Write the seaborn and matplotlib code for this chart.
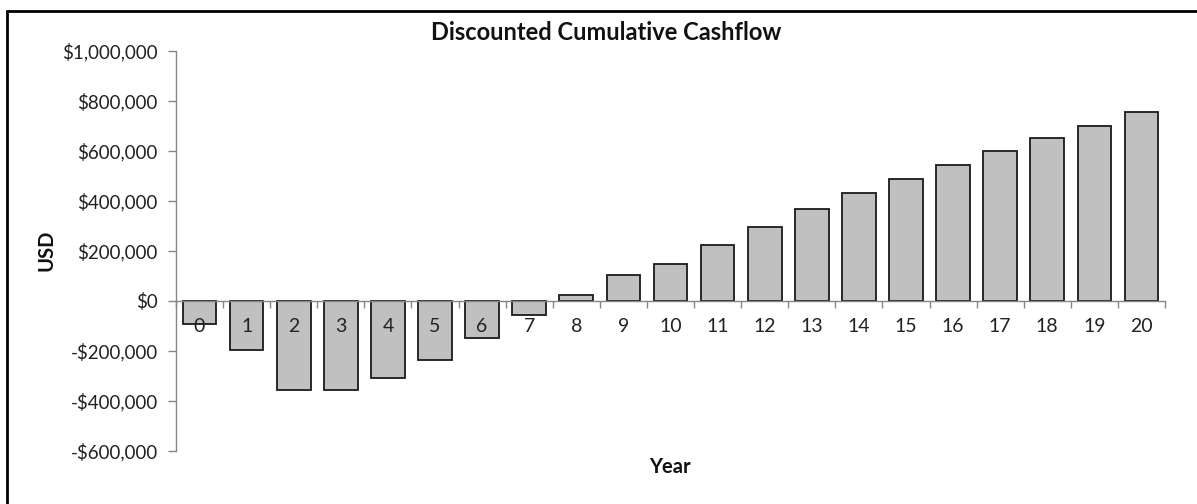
import matplotlib
matplotlib.use("Agg")
import matplotlib.pyplot as plt
from matplotlib.lines import Line2D
from matplotlib.ticker import FuncFormatter, FixedLocator
import numpy as np
import seaborn as sns

# ---------------------------------------------------------------------------
# Data
# ---------------------------------------------------------------------------
years = [str(y) for y in range(21)]
cum_cashflow = [
    -90000, -197000, -354000, -355000, -309000, -237000, -148000, -57000,
    25000, 103000, 147000, 223000, 295000, 367000, 432000, 487000,
    545000, 601000, 652000, 701000, 755000,
]
y_ticks = [-600000, -400000, -200000, 0, 200000, 400000, 600000, 800000, 1000000]

AXIS_GREY = "#868686"
TEXT = "#222222"

sns.set_theme(style="white")
plt.rcParams["font.family"] = ["Lato", "DejaVu Sans"]

fig = plt.figure(figsize=(11.97, 5.04), dpi=100)
ax = fig.add_axes([176 / 1197, 53 / 504, (1165 - 176) / 1197, 400 / 504])

sns.barplot(
    x=years,
    y=cum_cashflow,
    color="#c0c0c0",
    saturation=1,
    edgecolor="#1a1a1a",
    linewidth=1.3,
    width=0.714,
    ax=ax,
)
# bars below the axis so the year labels sit on top of them, as in Excel
for p in ax.patches:
    p.set_zorder(1)
ax.set_axisbelow(False)

ax.set_xlim(-0.5, len(years) - 0.5)
ax.set_ylim(-600000, 1000000)
ax.yaxis.set_major_locator(FixedLocator(y_ticks))


def usd(v, _):
    return f"-${abs(v):,.0f}" if v < 0 else f"${v:,.0f}"


ax.yaxis.set_major_formatter(FuncFormatter(usd))

# spines: left axis + zero line axis
for side in ["top", "right"]:
    ax.spines[side].set_visible(False)
ax.spines["bottom"].set_position(("data", 0))
for side in ["left", "bottom"]:
    ax.spines[side].set_color(AXIS_GREY)
    ax.spines[side].set_linewidth(1.0)

# tick marks at category boundaries, labels centred under bars
ax.set_xticks(np.arange(len(years)))
ax.set_xticklabels(years)
ax.set_xticks(np.arange(-0.5, len(years), 1.0), minor=True)
ax.tick_params(axis="x", which="major", length=0, pad=12.5, labelsize=14, labelcolor=TEXT)
ax.tick_params(axis="x", which="minor", length=5, width=1, color=AXIS_GREY, direction="out", bottom=True)
ax.tick_params(axis="y", which="major", length=6, width=1, color=AXIS_GREY, direction="out",
               left=True, labelsize=13.5, labelcolor=TEXT, pad=7)

ax.set_xlabel("")
ax.set_ylabel("")
ax.grid(False)

fig.text(606 / 1197, 1 - 33 / 504, "Discounted Cumulative Cashflow", ha="center", va="center",
         fontsize=17, fontweight="bold", color="#111111")
fig.text(47 / 1197, 1 - 250 / 504, "USD", ha="center", va="center", rotation=90,
         fontsize=14.5, fontweight="bold", color="#111111")
fig.text(670 / 1197, 1 - 467 / 504, "Year", ha="center", va="center",
         fontsize=14.5, fontweight="bold", color="#111111")

# chart frame (only top and left edges show in the reference)
fig.add_artist(Line2D([7 / 1197, 7 / 1197], [0, 1 - 11 / 504], transform=fig.transFigure,
                      color="black", linewidth=2))
fig.add_artist(Line2D([7 / 1197, 1], [1 - 11 / 504, 1 - 11 / 504], transform=fig.transFigure,
                      color="black", linewidth=2))

fig.savefig("out.png", dpi=100)
